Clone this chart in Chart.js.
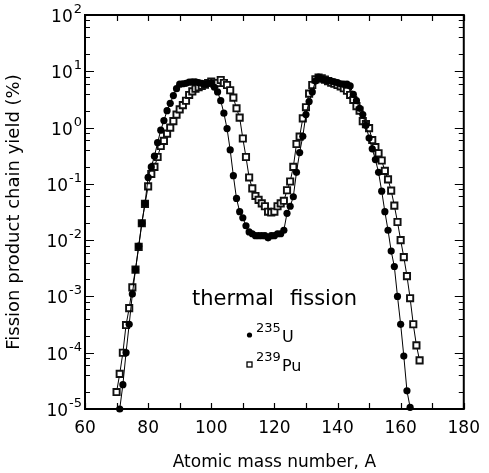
<!DOCTYPE html>
<html>
<head>
    <title>Fission product chain yield</title>
    <style>
        body {
            margin: 0;
            background: #ffffff;
        }
        #chart-container {
            width: 489px;
            height: 473px;
        }
    </style>
    <script src="https://cdn.jsdelivr.net/npm/chart.js"></script>
</head>
<body>
    <div id="chart-container">
        <canvas id="yieldChart"></canvas>
    </div>
    <script>
        // U-235 thermal fission chain yields (%)
        const massU = [71, 72, 73, 74, 75, 76, 77, 78, 79, 80, 81, 82, 83, 84, 85, 86, 87, 88, 89, 90,
            91, 92, 93, 94, 95, 96, 97, 98, 99, 100, 101, 102, 103, 104, 105, 106, 107, 108, 109, 110,
            111, 112, 113, 114, 115, 116, 117, 118, 119, 120, 121, 122, 123, 124, 125, 126, 127, 128, 129, 130,
            131, 132, 133, 134, 135, 136, 137, 138, 139, 140, 141, 142, 143, 144, 145, 146, 147, 148, 149, 150,
            151, 152, 153, 154, 155, 156, 157, 158, 159, 160, 161, 162, 163];
        const yieldU = [1.0e-5, 2.7e-5, 1.0e-4, 3.2e-4, 1.1e-3, 3.0e-3, 7.8e-3, 0.020, 0.045, 0.13,
            0.20, 0.31, 0.54, 0.90, 1.33, 2.0, 2.7, 3.7, 4.9, 5.9,
            6.0, 6.1, 6.4, 6.5, 6.5, 6.3, 6.1, 5.9, 6.1, 6.3,
            5.2, 4.3, 3.0, 1.8, 0.96, 0.40, 0.14, 0.055, 0.032, 0.025,
            0.018, 0.014, 0.013, 0.012, 0.012, 0.012, 0.012, 0.011, 0.012, 0.012,
            0.013, 0.013, 0.015, 0.030, 0.040, 0.059, 0.16, 0.36, 0.70, 1.7,
            2.9, 4.3, 6.7, 7.9, 7.3, 7.0, 6.8, 6.7, 6.5, 6.3,
            6.0, 5.9, 5.9, 5.5, 3.9, 3.0, 2.2, 1.7, 1.1, 0.65,
            0.42, 0.27, 0.16, 0.074, 0.032, 0.015, 6.4e-3, 3.4e-3, 1.0e-3, 3.2e-4,
            8.7e-5, 2.1e-5, 1.07e-5];

        // Pu-239 thermal fission chain yields (%)
        const massPu = [70, 71, 72, 73, 74, 75, 76, 77, 78, 79, 80, 81, 82, 83, 84, 85, 86, 87, 88, 89,
            90, 91, 92, 93, 94, 95, 96, 97, 98, 99, 100, 101, 102, 103, 104, 105, 106, 107, 108, 109,
            110, 111, 112, 113, 114, 115, 116, 117, 118, 119, 120, 121, 122, 123, 124, 125, 126, 127, 128, 129,
            130, 131, 132, 133, 134, 135, 136, 137, 138, 139, 140, 141, 142, 143, 144, 145, 146, 147, 148, 149,
            150, 151, 152, 153, 154, 155, 156, 157, 158, 159, 160, 161, 162, 163, 164, 165, 166];
        const yieldPu = [2.0e-5, 4.2e-5, 1.0e-4, 3.1e-4, 6.2e-4, 1.45e-3, 3.0e-3, 7.6e-3, 0.020, 0.044,
            0.09, 0.15, 0.20, 0.30, 0.47, 0.58, 0.78, 1.0, 1.3, 1.7,
            2.1, 2.5, 3.0, 3.8, 4.4, 4.9, 5.2, 5.5, 5.8, 6.2,
            6.6, 6.0, 6.2, 7.0, 6.2, 5.7, 4.6, 3.4, 2.2, 1.5,
            0.64, 0.30, 0.13, 0.083, 0.061, 0.052, 0.045, 0.040, 0.032, 0.031,
            0.032, 0.040, 0.045, 0.050, 0.077, 0.11, 0.20, 0.51, 0.69, 1.46,
            2.3, 4.0, 5.7, 7.2, 7.7, 7.5, 7.1, 6.7, 6.3, 6.0,
            5.7, 5.4, 5.0, 4.5, 3.8, 3.1, 2.4, 2.0, 1.3, 1.15,
            0.98, 0.60, 0.45, 0.35, 0.26, 0.17, 0.12, 0.076, 0.041, 0.021,
            0.010, 5.0e-3, 2.3e-3, 9.3e-4, 3.2e-4, 1.35e-4, 7.3e-5];

        const xTicks = [60, 80, 100, 120, 140, 160, 180];
        const yDecades = [-5, -4, -3, -2, -1, 0, 1, 2];

        const FONT = "'DejaVu Sans', sans-serif";

        // frame, inward ticks, power-of-ten labels and the in-plot legend
        const framePlugin = {
            id: 'frame',
            afterDraw(chart) {
                const ctx = chart.ctx;
                const area = chart.chartArea;
                const xs = chart.scales.x;
                const ys = chart.scales.y;
                ctx.save();
                ctx.strokeStyle = '#000';
                ctx.fillStyle = '#000';
                ctx.lineWidth = 2;
                ctx.strokeRect(area.left, area.top, area.right - area.left, area.bottom - area.top);

                ctx.lineWidth = 1.2;
                ctx.beginPath();
                for (let v = 60; v <= 180; v += 10) {
                    const px = Math.round(xs.getPixelForValue(v)) + 0.5;
                    ctx.moveTo(px, area.bottom);
                    ctx.lineTo(px, area.bottom - 6);
                    ctx.moveTo(px, area.top);
                    ctx.lineTo(px, area.top + 6);
                }
                yDecades.forEach(e => {
                    const py = Math.round(ys.getPixelForValue(Math.pow(10, e))) + 0.5;
                    ctx.moveTo(area.left, py);
                    ctx.lineTo(area.left + 9, py);
                    ctx.moveTo(area.right, py);
                    ctx.lineTo(area.right - 9, py);
                    if (e < 2) {
                        [2, 4, 6, 8].forEach(m => {
                            const pm = Math.round(ys.getPixelForValue(m * Math.pow(10, e))) + 0.5;
                            ctx.moveTo(area.left, pm);
                            ctx.lineTo(area.left + 5, pm);
                            ctx.moveTo(area.right, pm);
                            ctx.lineTo(area.right - 5, pm);
                        });
                    }
                });
                ctx.stroke();

                // y tick labels as 10 with a raised exponent
                ctx.textBaseline = 'alphabetic';
                yDecades.forEach(e => {
                    const py = ys.getPixelForValue(Math.pow(10, e));
                    const expText = e < 0 ? '-' + (-e) : String(e);
                    ctx.font = '13px ' + FONT;
                    const expW = ctx.measureText(expText).width;
                    ctx.textAlign = 'left';
                    ctx.fillText(expText, area.left - 3 - expW, py - 2);
                    ctx.font = '17px ' + FONT;
                    ctx.textAlign = 'right';
                    ctx.fillText('10', area.left - 4 - expW, py + 7);
                });

                // in-plot legend
                ctx.textAlign = 'left';
                ctx.font = '21px ' + FONT;
                ctx.fillText('thermal', 192, 305);
                ctx.fillText('fission', 290, 305);

                ctx.beginPath();
                ctx.arc(249.5, 335, 2.6, 0, Math.PI * 2);
                ctx.fill();
                ctx.lineWidth = 1.3;
                ctx.strokeRect(247, 362, 5, 5);

                ctx.font = '13px ' + FONT;
                ctx.fillText('235', 256, 332);
                ctx.fillText('239', 256, 361);
                ctx.font = '16px ' + FONT;
                ctx.fillText('U', 282, 342);
                ctx.fillText('Pu', 282, 371);
                ctx.restore();
            }
        };

        const ctx = document.getElementById('yieldChart').getContext('2d');
        new Chart(ctx, {
            type: 'line',
            data: {
                datasets: [{
                    label: '235U',
                    data: massU.map((a, i) => ({ x: a, y: yieldU[i] })),
                    borderColor: '#000',
                    borderWidth: 1,
                    backgroundColor: '#000',
                    pointStyle: 'circle',
                    pointRadius: 3.6,
                    pointBorderWidth: 0,
                    pointBackgroundColor: '#000',
                    tension: 0,
                    clip: false
                }, {
                    label: '239Pu',
                    data: massPu.map((a, i) => ({ x: a, y: yieldPu[i] })),
                    borderColor: '#000',
                    borderWidth: 1,
                    pointStyle: 'rect',
                    pointRadius: 4.4,
                    pointBorderWidth: 1.9,
                    pointBorderColor: '#111',
                    pointBackgroundColor: '#fff',
                    tension: 0,
                    clip: false
                }]
            },
            options: {
                responsive: true,
                maintainAspectRatio: false,
                animation: false,
                layout: {
                    padding: { top: 15, right: 9, left: 0, bottom: 0 }
                },
                plugins: {
                    legend: { display: false },
                    tooltip: { enabled: false }
                },
                scales: {
                    x: {
                        type: 'linear',
                        min: 60,
                        max: 180,
                        afterFit: function(scale) { scale.height = 64; },
                        afterBuildTicks: function(scale) {
                            scale.ticks = xTicks.map(v => ({ value: v }));
                        },
                        grid: { display: false, drawTicks: false },
                        border: { display: false },
                        ticks: {
                            color: '#000',
                            padding: 9,
                            maxRotation: 0,
                            autoSkip: false,
                            font: { family: FONT, size: 17 }
                        },
                        title: {
                            display: true,
                            text: 'Atomic mass number, A',
                            color: '#000',
                            font: { family: FONT, size: 17 },
                            padding: { top: 0, bottom: 0 }
                        }
                    },
                    y: {
                        type: 'logarithmic',
                        min: 1e-5,
                        max: 100,
                        afterFit: function(scale) { scale.width = 85; },
                        grid: { display: false, drawTicks: false },
                        border: { display: false },
                        ticks: { display: false },
                        title: {
                            display: true,
                            text: 'Fission product chain yield (%)',
                            color: '#000',
                            font: { family: FONT, size: 18 },
                            padding: { top: 4, bottom: 0 }
                        }
                    }
                }
            },
            plugins: [framePlugin]
        });
    </script>
</body>
</html>
